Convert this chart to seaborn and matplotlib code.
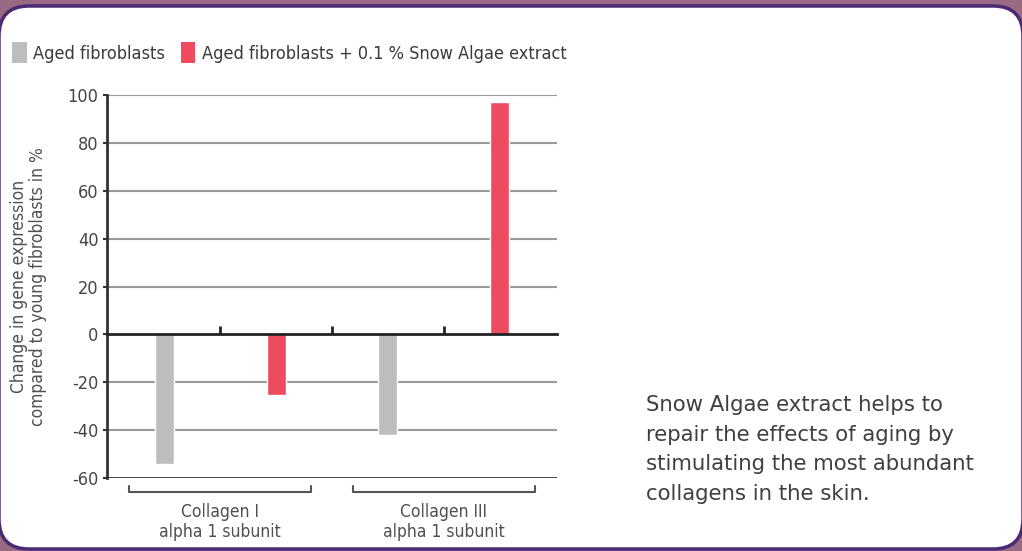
import matplotlib
matplotlib.use("Agg")
import matplotlib.pyplot as plt
from matplotlib.patches import FancyBboxPatch, Patch
from matplotlib.transforms import IdentityTransform
import seaborn as sns
import pandas as pd

# ---- data ----
groups = ["Collagen I\nalpha 1 subunit", "Collagen III\nalpha 1 subunit"]
series = ["Aged fibroblasts", "Aged fibroblasts + 0.1 % Snow Algae extract"]
aged_values = [-54, -42]
algae_values = [-25.5, 97]
y_ticks = [-60, -40, -20, 0, 20, 40, 60, 80, 100]
y_label = "Change in gene expression\ncompared to young fibroblasts in %"
side_text = ("Snow Algae extract helps to\nrepair the effects of aging by\n"
             "stimulating the most abundant\ncollagens in the skin.")
colors = ["#BDBDBD", "#EE4B5F"]

rows = []
for gi, g in enumerate(groups):
    for si, (s, vals) in enumerate(zip(series, [aged_values, algae_values])):
        rows.append({"slot": f"{gi}-{si}", "group": g, "series": s, "value": vals[gi]})
df = pd.DataFrame(rows)

sns.set_theme(style="white")
plt.rcParams["font.family"] = ["DejaVu Sans"]
plt.rcParams["font.stretch"] = "condensed"

fig = plt.figure(figsize=(10.22, 5.51), dpi=100)
fig.patch.set_facecolor("#9a6a82")
bg = FancyBboxPatch((-1, 2), 1024, 543, boxstyle="round,pad=0,rounding_size=30",
                    transform=IdentityTransform(), facecolor="white",
                    edgecolor="#4a2a72", linewidth=2.5, zorder=-10)
fig.patches.append(bg)

ax = fig.add_axes([107 / 1022, 1 - 478 / 551, 450 / 1022, 383 / 551])
ax.set_facecolor("none")
ax.set_zorder(5)

sns.barplot(data=df, x="slot", y="value", hue="series", dodge=False,
            palette=colors, hue_order=series, width=0.17, legend=False,
            saturation=1, ax=ax, zorder=3)

ax.set_ylim(-60, 100)
ax.set_xlim(-0.51, 3.51)
ax.set_yticks(y_ticks)
ax.set_yticklabels([str(t) for t in y_ticks], fontsize=13, color="#444444")
for t in y_ticks:
    if t not in (0, -60):
        ax.axhline(t, color="#9a9a9a", lw=1.5, zorder=1)
ax.axhline(-60, color="#333333", lw=2, zorder=2)

for s in ["top", "right"]:
    ax.spines[s].set_visible(False)
ax.spines["left"].set_color("#333333")
ax.spines["left"].set_linewidth(2)
ax.spines["bottom"].set_position(("data", 0))
ax.spines["bottom"].set_color("#222222")
ax.spines["bottom"].set_linewidth(2)
ax.spines["bottom"].set_zorder(4)

n_slots = len(groups) * len(series)
ax.set_xticks([i + 0.5 for i in range(n_slots - 1)])
ax.tick_params(axis="x", direction="in", length=6, width=2, color="#222222",
               labelbottom=False, bottom=True)
ax.tick_params(axis="y", direction="out", length=3, width=1.5, color="#333333",
               left=True, pad=3)
ax.set_xlabel("")
ax.set_ylabel(y_label, fontsize=12.5, color="#505050", labelpad=15, linespacing=1.05)

# group brackets and labels
trans = ax.get_xaxis_transform()
for gi, g in enumerate(groups):
    c = gi * len(series) + (len(series) - 1) / 2
    x0, x1 = c - 0.81, c + 0.81
    ax.plot([x0, x0, x1, x1], [-0.02, -0.037, -0.037, -0.02], color="#555555",
            lw=1.5, transform=trans, clip_on=False)
    ax.text(c, -0.065, g, transform=trans, ha="center", va="top", fontsize=12.5,
            color="#505050", linespacing=1.15)

# legend
handles = [Patch(facecolor=c, edgecolor="none") for c in colors]
fig.legend(handles, series, loc="upper left", bbox_to_anchor=(-0.004, 0.953),
           ncol=2, frameon=False, fontsize=13, handlelength=0.8, handleheight=1.4,
           handletextpad=0.35, columnspacing=0.9, labelcolor="#3a3a3a")

fig.text(646 / 1022, 1 - 395 / 551, side_text, ha="left", va="top",
         fontsize=15.3, color="#3f3f3f", linespacing=1.6,
         family="DejaVu Sans", fontstretch="normal")

fig.savefig("out.png", dpi=100, facecolor=fig.get_facecolor())
